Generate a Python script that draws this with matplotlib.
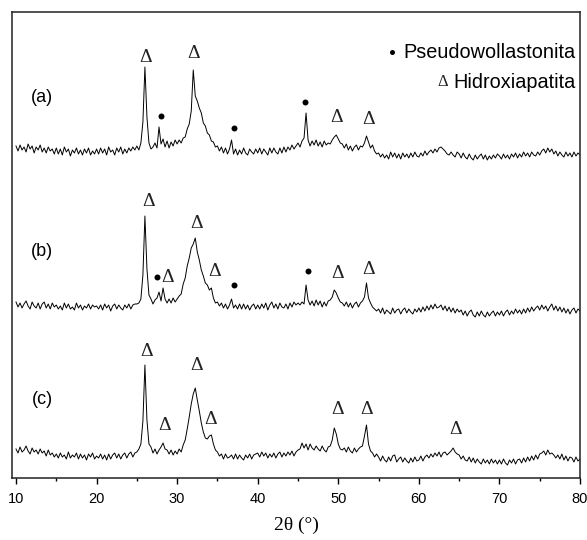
import numpy as np
import matplotlib
matplotlib.use("Agg")
import matplotlib.pyplot as plt
from matplotlib.ticker import MultipleLocator

# 2-theta grid: 10.00 .. 80.00 in 0.25 deg steps (281 points)
two_theta = np.arange(281) * 0.25 + 10.0

# Relative intensities (a.u.), one row per 5 degrees
int_a = [
    6, 1, 7, 2, 5, 0, 8, 3, 6, -1, 5, 2, 7, 0, 4, -1, 5, 1, 3, -2,
    4, -2, 3, -3, 5, 0, 3, -4, 2, -1, 4, -2, 2, -3, 3, -1, 4, -3, 1, -2,
    3, -2, 4, -1, 3, -3, 5, 0, 2, -3, 4, 0, 5, -2, 3, -1, 4, 1, 5, 2,
    6, 2, 9, 30, 85, 35, 9, 3, 5, 9, 4, 25, 8, 13, 5, 11, 4, 10, 6, 12,
    8, 12, 9, 14, 15, 23, 28, 41, 82, 56, 51, 44, 39, 29, 26, 19, 17, 11, 10, 5,
    6, 1, 5, -1, 4, -2, 3, 12, -2, 3, -3, 2, -2, 4, -1, -3, 3, 0, -2, 3,
    -1, 4, -2, 3, 0, -3, 4, -1, 4, 0, -2, 4, -1, 5, 0, 5, 2, 7, 3, 6,
    9, 5, 11, 14, 39, 12, 6, 11, 7, 12, 6, 10, 5, 11, 7, 9, 8, 12, 15, 17,
    13, 9, 8, 4, 8, 2, 6, 1, 5, 7, 2, 6, 5, 9, 16, 10, 4, 7, 1, -2,
    -1, -5, -2, -6, -3, -7, 0, -5, -1, -6, -2, -7, -1, -5, -2, -6, -1, -5, 0, -4,
    -5, -1, -4, 1, -3, 0, 2, -1, 3, 0, 4, 5, 3, 1, -2, -3, 0, -3, -5, 0,
    -2, -6, -1, -5, -7, -2, -6, -8, -3, -7, -4, -2, -7, -3, -8, -4, -7, -3, -6, -2,
    -4, -7, -2, -6, -3, -7, -2, -5, -1, -6, -2, -5, 0, -4, -1, -5, 0, -3, -4, 0,
    -3, 1, 3, -1, 4, 0, 3, -2, 1, -4, 0, -3, -5, 0, -4, -1, -5, 0, -4, -1,
    -3,
]
int_b = [
    5, 0, 4, -1, 3, 6, 1, -2, 5, 1, -1, 4, -2, 3, 5, -1, 3, -2, 4, 0,
    2, -2, 1, -3, 4, -1, 3, -2, 0, -3, 4, -1, 2, -3, 1, -1, 3, -2, 2, 0,
    1, -2, 2, -3, 3, -1, 2, -4, 1, 3, -2, 2, -1, -3, 2, -1, 3, -2, 2, 3,
    3, 4, 8, 32, 91, 38, 12, 8, 3, 7, 9, 15, 6, 19, 8, 4, 8, 4, 9, 5,
    8, 11, 13, 23, 29, 41, 49, 59, 63, 69, 55, 47, 37, 31, 24, 22, 17, 19, 9, 4,
    5, 1, 4, -1, 3, -2, 2, 8, -1, 2, -2, 3, -2, 3, -2, 2, -3, 1, 3, -2,
    2, -2, 3, -1, 4, -3, 2, 5, -1, 3, -2, 4, 0, -1, 3, -2, 4, 0, 5, 2,
    4, 2, 5, 3, 22, 7, 2, 6, 1, 7, 2, 6, 0, 5, 1, 6, 7, 10, 17, 14,
    9, 5, 4, 1, 5, 0, 4, -1, 3, 5, 0, 4, 6, 10, 24, 9, 4, 0, -2, -4,
    -2, -6, -1, -7, -3, -5, -7, -1, -6, -3, -2, -7, -3, -1, -6, -2, -5, -7, -2, -5,
    -1, -5, 0, -4, 1, -3, 2, -2, 3, -1, 0, 2, -3, 1, -4, 0, -5, -1, -6, -2,
    -5, -3, -8, -4, -9, -5, -3, -8, -10, -5, -9, -4, -8, -10, -5, -9, -6, -4, -9, -5,
    -8, -4, -9, -5, -3, -8, -4, -7, -2, -6, -3, -7, -2, -6, -1, -5, 0, -4, -1, 1,
    -3, 2, -2, 1, -4, 0, 3, -3, 1, -4, 0, -5, -1, -6, -2, -7, -3, -1, -6, -2,
    -4,
]
int_c = [
    7, 3, 9, 4, 6, 10, 5, 2, 8, 4, 6, 2, 7, 3, 5, 0, 6, 1, 3, -1,
    2, -2, 3, -1, 1, -3, 4, -2, 1, -1, 3, -3, 2, -2, 1, -4, 2, -1, 3, -3,
    0, -2, 2, -3, 1, -4, 2, -3, 1, 3, -2, 2, -3, 1, 3, -2, 2, 4, -1, 3,
    4, 7, 12, 35, 91, 36, 12, 9, 3, 7, 2, 6, 9, 13, 7, 6, 2, 6, 1, 5,
    2, 7, 4, 11, 16, 27, 39, 52, 62, 68, 56, 45, 33, 24, 18, 17, 20, 21, 12, 6,
    4, 0, 2, -3, 2, -2, -1, 1, -3, 2, -3, 1, -2, -4, 1, -2, 2, -3, 1, 2,
    3, -1, 4, 0, 3, -2, 2, -1, 3, -2, 2, 4, -1, 3, 0, 4, 1, 5, 0, 4,
    6, 7, 13, 8, 12, 6, 12, 8, 6, 10, 7, 5, 10, 6, 4, 9, 10, 16, 28, 22,
    12, 7, 6, 8, 4, 9, 5, 3, 8, 4, 7, 9, 10, 20, 31, 12, 5, 3, -1, 2,
    -1, -5, 0, -4, -6, -1, -5, 0, 1, -6, -3, -1, -6, -2, -5, -7, -2, -6, -1, -5,
    -4, 0, -5, -1, 1, -2, 2, -1, 3, 0, 4, -1, 3, 4, 1, 3, 5, 8, 4, 2,
    1, -3, 0, -4, -5, -1, -6, -2, -7, -3, -6, -8, -3, -7, -4, -8, -3, -7, -4, -8,
    -4, -8, -3, -7, -9, -4, -7, -3, -8, -4, -3, -7, -2, -6, -1, -5, 0, -4, 1, -3,
    2, 3, 5, 1, 6, 2, 3, 1, -2, 1, -3, 2, -4, 0, -5, -1, -2, -6, -1, -5,
    -3,
]

# Phase markers (2-theta, intensity relative to each pattern)
hap_a_x = [26.05, 32.0, 49.75, 53.75]
hap_a_y = [95, 99, 34, 32]
pw_a_x = [27.95, 37.1, 45.9]
pw_a_y = [36, 24, 50]

hap_b_x = [26.5, 28.8, 32.45, 34.6, 49.9, 53.7]
hap_b_y = [105, 30, 84, 35, 34, 37]
pw_b_x = [27.5, 37.0, 46.3]
pw_b_y = [30, 22, 36]

hap_c_x = [26.2, 28.4, 32.45, 34.1, 49.9, 53.5, 64.6]
hap_c_y = [105, 31, 91, 36, 46, 46, 26]
pw_c_x = []
pw_c_y = []

sample_labels = ["(a)", "(b)", "(c)"]
legend_labels = ["Pseudowollastonita", "Hidroxiapatita"]
x_ticks = [10, 20, 30, 40, 50, 60, 70, 80]

# ---------------- layout / style ----------------
offsets = [326, 171, 22]
W, H = 587, 540
fig = plt.figure(figsize=(W / 100, H / 100), dpi=100)
ax = fig.add_axes([12.3 / W, 1 - 478 / H, (580 - 12.3) / W, 466 / H])
ax.set_xlim(9.54, 80)
ax.set_ylim(0, 466)

series = [int_a, int_b, int_c]
haps = [(hap_a_x, hap_a_y), (hap_b_x, hap_b_y), (hap_c_x, hap_c_y)]
pws = [(pw_a_x, pw_a_y), (pw_b_x, pw_b_y), (pw_c_x, pw_c_y)]
label_y = [97, 252, 400]  # pixel rows of the sample labels

serif = "Liberation Serif"
sans = "Liberation Sans"

for vals, off, (hx, hy), (px, py), lab, ly in zip(series, offsets, haps, pws,
                                                   sample_labels, label_y):
    ax.plot(two_theta, np.asarray(vals) + off, color="black", lw=0.7)
    for xx, yy in zip(hx, hy):
        ax.text(xx, yy + off, "\u0394", family=serif, fontsize=14,
                ha="center", va="center", color="#222222")
    if px:
        ax.plot(px, np.asarray(py) + off, "o", color="black", ms=4.3, mec="none")
    ax.text((42 - 12.3) / (580 - 12.3), (478 - ly) / 466, lab,
            transform=ax.transAxes, family=sans, fontsize=13,
            ha="center", va="center")

# legend drawn as text
ax.text(79.4, 426, legend_labels[0], family=sans, fontsize=14.3,
        ha="right", va="center")
ax.plot([56.7], [426], "o", color="black", ms=3.6, mec="none")
ax.text(79.4, 396, legend_labels[1], family=sans, fontsize=14.3,
        ha="right", va="center")
ax.text(62.9, 396, "\u0394", family=serif, fontsize=12,
        ha="center", va="center", color="#222222")

ax.set_xticks(x_ticks)
ax.set_xticklabels([str(t) for t in x_ticks], family=sans, fontsize=10.5)
ax.xaxis.set_minor_locator(MultipleLocator(5))
ax.tick_params(axis="x", which="major", direction="out", length=4, width=1, pad=6)
ax.tick_params(axis="x", which="minor", direction="out", length=2.2, width=1)
ax.set_yticks([])
for s in ax.spines.values():
    s.set_linewidth(1.1)
    s.set_color("#222222")

ax.set_xlabel("2\u03b8 (\u00b0)", family=serif, fontsize=14, labelpad=8)

fig.savefig("out.png", dpi=100)
